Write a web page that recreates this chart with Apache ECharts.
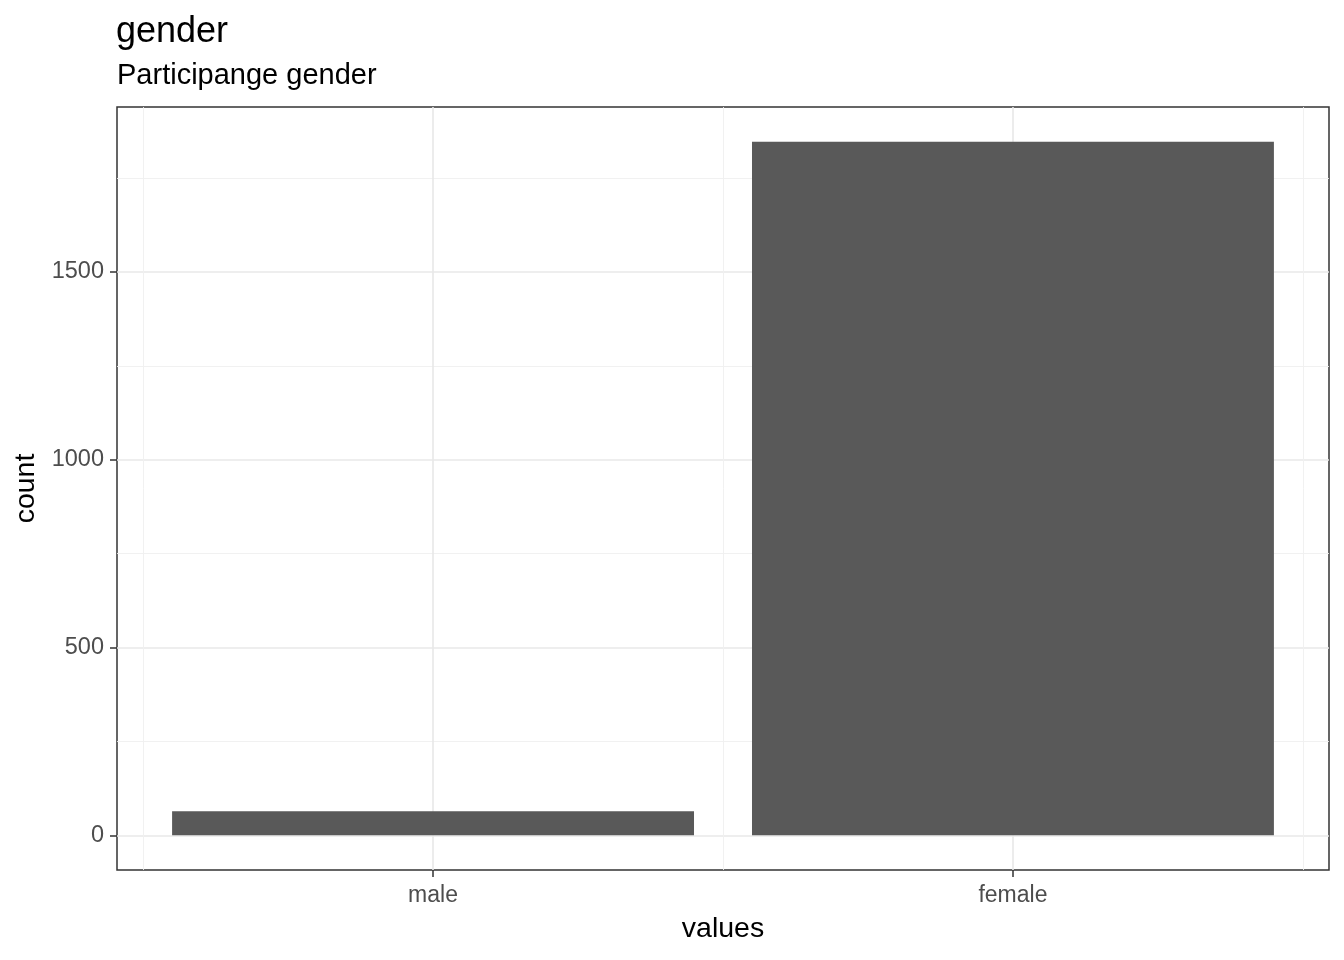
<!DOCTYPE html>
<html>
<head>
<meta charset="utf-8">
<title>gender</title>
<script src="https://cdn.jsdelivr.net/npm/echarts@6/dist/echarts.min.js"></script>
<style>
  html, body { margin: 0; padding: 0; background: #fff; }
  #main { width: 1344px; height: 960px; }
</style>
</head>
<body>
<div id="main"></div>
<script>
// data
var categories = ['male', 'female'];
var counts = [64, 1847];
var yMajorTicks = [0, 500, 1000, 1500];
var yMinorTicks = [250, 750, 1250, 1750];
var xMajorTicks = [1, 2];
var xMinorTicks = [0.5, 1.5, 2.5];

var chart = echarts.init(document.getElementById('main'));

var font = '"Liberation Sans", Arial, sans-serif';
var maxCount = Math.max.apply(null, counts);
// ggplot style 5% expansion on y, bars [0.55, 2.45] expanded by 5% on x
var yMin = -0.05 * maxCount, yMax = 1.05 * maxCount;
var xMin = 0.455, xMax = 2.545;

var panel = { left: 117, top: 107, width: 1212, height: 763 };
var unit = panel.width / (xMax - xMin);
var innerLeft = panel.left + (0.5 - xMin) * unit;
var innerWidth = categories.length * unit;

var majorLine = { color: '#e8e8e8', width: 1.6 };
var minorLine = { color: '#efefef', width: 0.9 };
var tickStyle = { color: '#333333', width: 1.5 };

var option = {
    animation: false,
    backgroundColor: '#ffffff',
    title: [{
        text: 'gender',
        left: 116,
        top: 14,
        padding: 0,
        textStyle: { fontFamily: font, fontSize: 36, fontWeight: 'normal', color: '#000' }
    }, {
        text: 'Participange gender',
        left: 117,
        top: 61,
        padding: 0,
        textStyle: { fontFamily: font, fontSize: 29, fontWeight: 'normal', color: '#000' }
    }],
    grid: [{
        left: panel.left, top: panel.top, width: panel.width, height: panel.height,
        show: true, backgroundColor: '#fff', borderColor: '#333333', borderWidth: 1.5
    }, {
        left: innerLeft, top: panel.top, width: innerWidth, height: panel.height
    }],
    xAxis: [{
        gridIndex: 0, type: 'value', min: xMin, max: xMax,
        axisLine: { show: false, onZero: false },
        axisTick: { show: false, customValues: xMajorTicks },
        axisLabel: { show: false, customValues: xMajorTicks },
        splitLine: { show: true, lineStyle: majorLine },
        name: 'values', nameLocation: 'middle', nameGap: 45,
        nameTextStyle: { fontFamily: font, fontSize: 28.5, color: '#000' }
    }, {
        gridIndex: 0, type: 'value', min: xMin, max: xMax,
        axisLine: { show: false, onZero: false },
        axisTick: { show: false, customValues: xMinorTicks },
        axisLabel: { show: false, customValues: xMinorTicks },
        splitLine: { show: true, lineStyle: minorLine }
    }, {
        gridIndex: 1, type: 'category', data: categories,
        axisLine: { show: false, onZero: false },
        axisTick: { show: true, alignWithLabel: true, length: 7, lineStyle: tickStyle },
        axisLabel: { fontFamily: font, fontSize: 23, color: '#4d4d4d', margin: 14 },
        splitLine: { show: false }
    }],
    yAxis: [{
        gridIndex: 0, type: 'value', min: yMin, max: yMax,
        axisLine: { show: false, onZero: false },
        axisTick: { show: true, length: 7, lineStyle: tickStyle, customValues: yMajorTicks },
        axisLabel: {
            fontFamily: font, fontSize: 23.5, color: '#4d4d4d', margin: 13,
            customValues: yMajorTicks,
            formatter: function (v) { return String(v); }
        },
        splitLine: { show: true, lineStyle: majorLine },
        name: 'count', nameLocation: 'middle', nameGap: 66,
        nameTextStyle: { fontFamily: font, fontSize: 28.5, color: '#000' }
    }, {
        gridIndex: 0, type: 'value', min: yMin, max: yMax,
        axisLine: { show: false, onZero: false },
        axisTick: { show: false, customValues: yMinorTicks },
        axisLabel: { show: false, customValues: yMinorTicks },
        splitLine: { show: true, lineStyle: minorLine }
    }, {
        gridIndex: 1, type: 'value', min: yMin, max: yMax, show: false
    }],
    series: [{
        type: 'bar',
        xAxisIndex: 2,
        yAxisIndex: 2,
        data: counts,
        barWidth: '90%',
        itemStyle: { color: '#595959' },
        silent: true
    }]
};

chart.setOption(option);
</script>
</body>
</html>
